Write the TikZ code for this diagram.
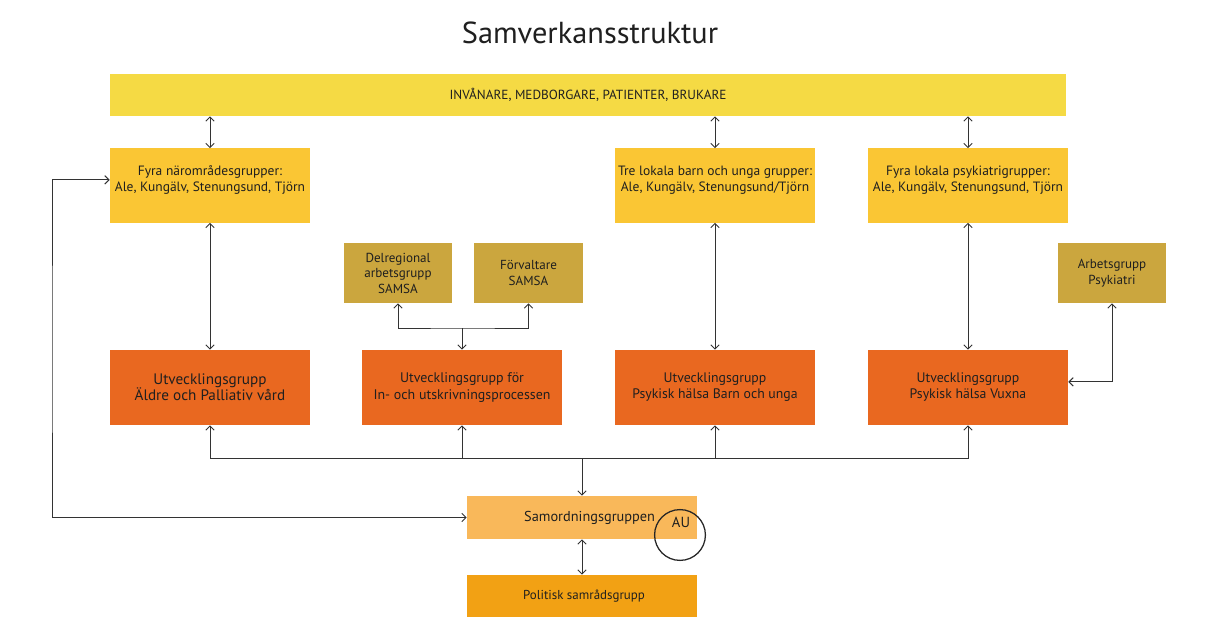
\documentclass[tikz,border=0pt]{standalone}
\usepackage{fontspec}
\setmainfont{PT Sans}
\usetikzlibrary{positioning,arrows.meta}

\definecolor{barYellow}{RGB}{245,218,68}
\definecolor{groupYellow}{RGB}{250,198,52}
\definecolor{ochre}{RGB}{203,166,62}
\definecolor{devOrange}{RGB}{233,104,32}
\definecolor{samOrange}{RGB}{249,184,90}
\definecolor{polOrange}{RGB}{242,161,20}

\tikzset{
    box/.style={inner sep=0pt, align=center, text=black!88},
    groupbox/.style={box, fill=groupYellow, minimum width=5cm, minimum height=1.85cm},
    devbox/.style={box, fill=devOrange, minimum width=5cm, minimum height=1.875cm, font=\fontsize{10.8}{11.6}\selectfont},
    workbox/.style={box, fill=ochre, minimum width=2.7cm, minimum height=1.5cm, font=\fontsize{9.3}{11}\selectfont},
    link/.style={draw=black!80, line width=0.7pt, {Straight Barb[length=3pt,width=6pt]}-{Straight Barb[length=3pt,width=6pt]}},
    onelink/.style={draw=black!80, line width=0.7pt, -{Straight Barb[length=3pt,width=6pt]}},
}

\begin{document}
\begin{tikzpicture}[x=0.025cm,y=-0.025cm]
    \useasboundingbox (0,0) rectangle (1209,630);
    \def\rowOne{185.5}
    \def\rowTwo{387.5}
    \def\lineGap{11.4}

    \node[box, font=\fontsize{21.6}{26}\selectfont] (title) at (590,33) {Samverkansstruktur};

    % Top bar
    \node[box, fill=barYellow, minimum width=23.9cm, minimum height=1.05cm, font=\fontsize{9.4}{11}\selectfont] (people) at (588,95) {INVÅNARE, MEDBORGARE, PATIENTER, BRUKARE};

    % Local groups
    \foreach \name\xPos\first\second in {groupA/210/Fyra närområdesgrupper:/{Ale, Kungälv, Stenungsund, Tjörn},
        groupB/715/Tre lokala barn och unga grupper:/{Ale, Kungälv, Stenungsund/Tjörn},
        groupC/968/Fyra lokala psykiatrigrupper:/{Ale, Kungälv, Stenungsund, Tjörn}} {
            \node[groupbox, label={[align=center, yshift=4pt, font=\fontsize{9.6}{\lineGap}\selectfont, text=black!88]center:\first\\\second}] (\name) at (\xPos,\rowOne) {};
        }

    % Work groups
    \node[workbox] (delreg) at (398,273) {Delregional\\arbetsgrupp\\SAMSA};
    \node[workbox] (forvalt) at (528.5,273) {Förvaltare\\SAMSA};
    \node[workbox] (arbPsyk) at (1112,273) {Arbetsgrupp\\Psykiatri};

    % Development groups
    \node[devbox] (devA) at (210,\rowTwo) {Utvecklingsgrupp\\Äldre och Palliativ vård};
    \node[devbox, font=\fontsize{9.9}{11.6}\selectfont] (devB) at (462,\rowTwo) {Utvecklingsgrupp för\\In- och utskrivningsprocessen};
    \node[devbox, font=\fontsize{9.8}{11.4}\selectfont] (devC) at (715,\rowTwo) {Utvecklingsgrupp\\Psykisk hälsa Barn och unga};
    \node[devbox, font=\fontsize{9.8}{11.4}\selectfont] (devD) at (968,\rowTwo) {Utvecklingsgrupp\\Psykisk hälsa Vuxna};

    % Coordination
    \node[box, fill=samOrange, minimum width=5.75cm, minimum height=1.075cm, font=\fontsize{10.2}{12}\selectfont] (samord) at (582,517.5) {\hspace*{0.38cm}Samordningsgruppen};
    \node[box, fill=polOrange, minimum width=5.75cm, minimum height=1.05cm, font=\fontsize{9.2}{11}\selectfont] (politisk) at (582,596) {\hspace*{0.1cm}Politisk samrådsgrupp};
    \node[draw=black!85, line width=0.9pt, circle, minimum size=1.27cm, inner sep=0pt] (auRing) at (680,535) {};
    \node[box, font=\fontsize{10.4}{12}\selectfont] (auText) at (681,522.5) {AU};

    % Links up and down
    \foreach \top\bottom in {groupA/devA,groupB/devC,groupC/devD} {
            \draw[link] (people.south -| \top) -- (\top.north);
            \draw[link] (\top.south) -- (\bottom.north);
        }

    % SAMSA
    \coordinate (samsaJoin) at (462,328);
    \draw[link] (delreg.south) |- (samsaJoin) -| (forvalt.south);
    \draw[onelink] (samsaJoin) -- (devB.north);
    \draw[link] (arbPsyk.south) |- ([yshift=4pt]devD.east);

    % Bus to coordination
    \coordinate (busJoin) at (582,458);
    \foreach \dev in {devA,devB,devC,devD} {
            \draw[onelink] (busJoin) -| (\dev.south);
        }
    \draw[onelink] (busJoin) -- (samord.north);
    \draw[link] (samord.south) -- (politisk.north);

    % Feedback loop
    \coordinate (loopLeft) at (52,350);
    \draw[link] ([yshift=4pt]groupA.west) -| (loopLeft) |- (samord.west);
\end{tikzpicture}
\end{document}
